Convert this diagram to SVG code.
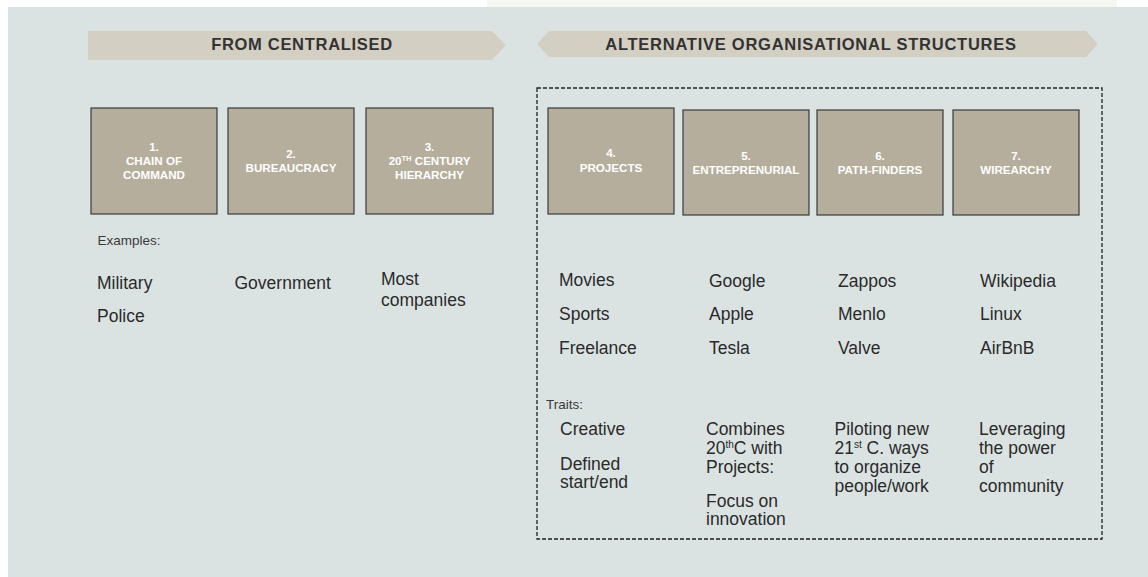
<svg xmlns="http://www.w3.org/2000/svg" width="1148" height="577" viewBox="0 0 1148 577">
<style>
.bg{fill:#dbe3e2}
.banner{fill:#d3cfc3}
.btxt{font-family:"Liberation Sans",Arial,sans-serif;font-weight:bold;font-size:16.5px;fill:#333;text-anchor:middle}
.box{fill:#b5ae9c;stroke:#3a3a3a;stroke-width:1.2}
.bx{font-family:"Liberation Sans",Arial,sans-serif;font-weight:bold;font-size:11.6px;fill:#fff;text-anchor:middle}
.lbl{font-family:"Liberation Sans",Arial,sans-serif;font-size:13.5px;fill:#3a3a3a}
.t{font-family:"Liberation Sans",Arial,sans-serif;font-size:17.5px;fill:#2a2a2a}
.dash{fill:none;stroke:#222;stroke-width:1.3;stroke-dasharray:4 2}
</style>
<rect x="0" y="0" width="1148" height="577" fill="#ffffff"/>
<rect x="487" y="0" width="630" height="8" fill="#f7f7f1"/>
<rect class="bg" x="8" y="7" width="1140" height="570"/>

<g id="banner-centralised">
<polygon class="banner" points="88,31 492,31 506,45 492,60 88,60"/>
<text class="btxt" x="302" y="50" letter-spacing="0.7">FROM CENTRALISED</text>
</g>
<g id="banner-alternative">
<polygon class="banner" points="549,31 1086,31 1098,44 1086,57 549,57 537,44"/>
<text class="btxt" x="811" y="50" letter-spacing="0.75">ALTERNATIVE ORGANISATIONAL STRUCTURES</text>
</g>

<g id="connectors">
<rect class="dash" x="537" y="88" width="565" height="451"/>
</g>

<g id="node1">
<rect class="box" x="91" y="108" width="126" height="106"/>
<text class="bx" x="154" y="151">1.</text>
<text class="bx" x="154" y="165">CHAIN OF</text>
<text class="bx" x="154" y="179">COMMAND</text>
</g>
<g id="node2">
<rect class="box" x="228" y="108" width="126" height="106"/>
<text class="bx" x="291" y="157.5">2.</text>
<text class="bx" x="291" y="172">BUREAUCRACY</text>
</g>
<g id="node3">
<rect class="box" x="366" y="108" width="127" height="106"/>
<text class="bx" x="429.5" y="151">3.</text>
<text class="bx" x="429.5" y="165">20<tspan font-size="7.5" dy="-4">TH</tspan><tspan dy="4"> CENTURY</tspan></text>
<text class="bx" x="429.5" y="179">HIERARCHY</text>
</g>
<g id="node4">
<rect class="box" x="548" y="108" width="126" height="106"/>
<text class="bx" x="611" y="157">4.</text>
<text class="bx" x="611" y="172">PROJECTS</text>
</g>
<g id="node5">
<rect class="box" x="683" y="110" width="126" height="105"/>
<text class="bx" x="746" y="159.5">5.</text>
<text class="bx" x="746" y="173.5">ENTREPRENURIAL</text>
</g>
<g id="node6">
<rect class="box" x="817" y="110" width="126" height="105"/>
<text class="bx" x="880" y="159.5">6.</text>
<text class="bx" x="880" y="173.5">PATH-FINDERS</text>
</g>
<g id="node7">
<rect class="box" x="953" y="110" width="126" height="105"/>
<text class="bx" x="1016" y="159.5">7.</text>
<text class="bx" x="1016" y="173.5">WIREARCHY</text>
</g>

<g id="examples-left">
<text class="lbl" x="97.5" y="245">Examples:</text>
<text class="t" x="97" y="289">Military</text>
<text class="t" x="97" y="322">Police</text>
<text class="t" x="234.5" y="289">Government</text>
<text class="t" x="381" y="285">Most</text>
<text class="t" x="381" y="306">companies</text>
</g>

<g id="examples-right">
<text class="t" x="559" y="286">Movies</text>
<text class="t" x="559" y="319.5">Sports</text>
<text class="t" x="559" y="353.5">Freelance</text>
<text class="t" x="709" y="286.5">Google</text>
<text class="t" x="709" y="320">Apple</text>
<text class="t" x="709" y="354">Tesla</text>
<text class="t" x="838" y="286.5">Zappos</text>
<text class="t" x="838" y="320">Menlo</text>
<text class="t" x="838" y="354">Valve</text>
<text class="t" x="980" y="286.5">Wikipedia</text>
<text class="t" x="980" y="320">Linux</text>
<text class="t" x="980" y="354">AirBnB</text>
</g>

<g id="traits">
<text class="lbl" x="546" y="409">Traits:</text>
<text class="t" x="560" y="435">Creative</text>
<text class="t" x="560" y="469.5">Defined</text>
<text class="t" x="560" y="488">start/end</text>
<text class="t" x="706" y="435">Combines</text>
<text class="t" x="706" y="454">20<tspan font-size="10" dy="-6">th</tspan><tspan dy="6">C with</tspan></text>
<text class="t" x="706" y="473">Projects:</text>
<text class="t" x="706" y="507">Focus on</text>
<text class="t" x="706" y="525">innovation</text>
<text class="t" x="834.5" y="435">Piloting new</text>
<text class="t" x="834.5" y="454">21<tspan font-size="10" dy="-6">st</tspan><tspan dy="6"> C. ways</tspan></text>
<text class="t" x="834.5" y="473">to organize</text>
<text class="t" x="834.5" y="491.5">people/work</text>
<text class="t" x="979" y="435">Leveraging</text>
<text class="t" x="979" y="454">the power</text>
<text class="t" x="979" y="473">of</text>
<text class="t" x="979" y="491.5">community</text>
</g>
</svg>
